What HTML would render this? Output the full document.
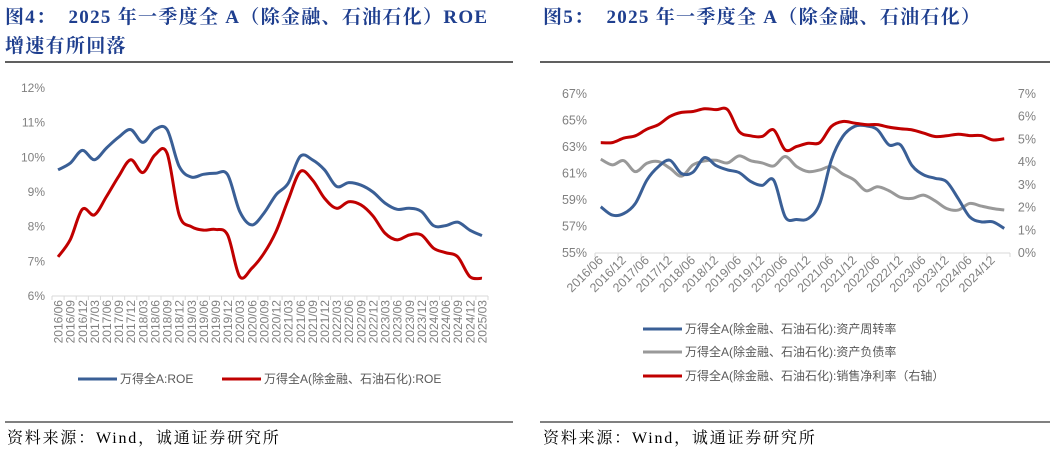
<!DOCTYPE html>
<html><head><meta charset="utf-8">
<style>
body{margin:0;width:1055px;height:453px;background:#fff;overflow:hidden;font-family:"Liberation Serif","Noto Serif CJK SC",serif;}
svg{position:absolute;left:0;top:0}
.t{font-family:"Liberation Serif","Noto Serif CJK SC",serif;font-weight:bold;fill:#1f3f8f;font-size:19px;letter-spacing:1.3px;white-space:pre}
.src{font-family:"Liberation Serif","Noto Serif CJK SC",serif;font-size:16px;fill:#000;letter-spacing:1.8px}
.ax{font-family:"Liberation Sans",sans-serif;font-size:12px;fill:#808080}
.ax2{font-family:"Liberation Sans",sans-serif;font-size:12.5px;fill:#808080}
.lg{font-family:"Liberation Sans","Noto Sans CJK SC",sans-serif;font-size:12px;fill:#595959}
</style></head><body>
<svg id="s" width="1055" height="453" xmlns="http://www.w3.org/2000/svg" xml:space="preserve">
<text class="t" x="5" y="23">图4：  2025 年一季度全 A（除金融、石油石化）ROE</text>
<text class="t" x="5" y="52">增速有所回落</text>
<text class="t" x="543" y="23">图5：  2025 年一季度全 A（除金融、石油石化）</text>
<line x1="5" y1="62" x2="513" y2="62" stroke="#000" stroke-width="1.2"/>
<line x1="540" y1="62" x2="1050" y2="62" stroke="#000" stroke-width="1.2"/>
<line x1="5" y1="422" x2="513" y2="422" stroke="#000" stroke-width="1"/>
<line x1="540" y1="422" x2="1050" y2="422" stroke="#000" stroke-width="1"/>
<text class="src" x="7" y="443">资料来源：Wind，诚通证券研究所</text>
<text class="src" x="543" y="443">资料来源：Wind，诚通证券研究所</text>
<g id="g1"></g>
<g id="g2"></g>
<g>
<line x1="78" y1="379" x2="117" y2="379" stroke="#3a5f96" stroke-width="3"/>
<text class="lg" x="120" y="383">万得全A:ROE</text>
<line x1="222" y1="379" x2="261" y2="379" stroke="#c00000" stroke-width="3"/>
<text class="lg" x="264" y="383">万得全A(除金融、石油石化):ROE</text>
</g>
<g>
<line x1="643" y1="329" x2="682" y2="329" stroke="#3a5f96" stroke-width="3"/>
<text class="lg" x="685" y="333">万得全A(除金融、石油石化):资产周转率</text>
<line x1="643" y1="352" x2="682" y2="352" stroke="#999" stroke-width="3"/>
<text class="lg" x="685" y="356">万得全A(除金融、石油石化):资产负债率</text>
<line x1="643" y1="376" x2="682" y2="376" stroke="#c00000" stroke-width="3"/>
<text class="lg" x="685" y="380">万得全A(除金融、石油石化):销售净利率（右轴）</text>
</g>
</svg>
<script>
const cats=[];for(let y=2016;y<=2025;y++)for(const q of["03","06","09","12"]){const c=y+"/"+q;if(c>="2016/06"&&c<="2025/03")cats.push(c);}
const roeAll=[9.64,9.83,10.2,9.93,10.27,10.58,10.8,10.43,10.8,10.8,9.74,9.43,9.51,9.54,9.5,8.44,8.05,8.39,8.92,9.25,10.03,9.93,9.64,9.16,9.27,9.2,9.0,8.68,8.5,8.53,8.44,8.03,8.03,8.13,7.9,7.74];
const roeEx=[7.13,7.62,8.5,8.34,8.87,9.45,9.93,9.56,10.07,10.12,8.34,8.0,7.9,7.92,7.76,6.56,6.8,7.23,7.86,8.77,9.59,9.35,8.82,8.53,8.72,8.63,8.31,7.81,7.62,7.76,7.76,7.38,7.25,7.13,6.56,6.51];
const leftTicks=[6,7,8,9,10,11,12];
const turnover=[58.49,57.86,57.98,58.74,60.5,61.52,62.0,61.0,61.1,62.2,61.6,61.27,61.07,60.4,60.1,60.5,57.73,57.53,57.6,58.74,62.0,63.8,64.55,64.6,64.3,63.16,63.16,61.6,60.9,60.64,60.38,59.12,57.73,57.35,57.35,56.85];
const leverage=[62.08,61.65,61.97,61.14,61.77,61.9,61.4,60.8,61.65,61.95,62.0,61.8,62.33,61.97,61.8,61.57,62.28,61.52,61.14,61.27,61.52,60.96,60.5,59.7,60.0,59.7,59.2,59.12,59.37,58.94,58.36,58.24,58.74,58.54,58.36,58.24];
const margin=[4.86,4.86,5.06,5.16,5.45,5.65,6.01,6.19,6.23,6.35,6.31,6.31,5.35,5.16,5.13,5.42,4.54,4.69,4.83,4.86,5.57,5.79,5.72,5.65,5.65,5.54,5.47,5.42,5.28,5.13,5.16,5.23,5.17,5.17,4.98,5.03];
const rLeftTicks=[55,57,59,61,63,65,67];
const rRightTicks=[0,1,2,3,4,5,6,7];
const NS="http://www.w3.org/2000/svg";
function mk(p,tag,a){const e=document.createElementNS(NS,tag);for(const k in a)e.setAttribute(k,a[k]);p.appendChild(e);return e;}
function smooth(pts){let d="M"+pts[0][0]+","+pts[0][1];for(let i=0;i<pts.length-1;i++){const p0=pts[i-1]||pts[i],p1=pts[i],p2=pts[i+1],p3=pts[i+2]||p2;const t=6;d+=" C"+(p1[0]+(p2[0]-p0[0])/t)+","+(p1[1]+(p2[1]-p0[1])/t)+" "+(p2[0]-(p3[0]-p1[0])/t)+","+(p2[1]-(p3[1]-p1[1])/t)+" "+p2[0]+","+p2[1];}return d;}
const g1=document.getElementById('g1');
const x1L=52,x1R=488,n=cats.length,cw1=(x1R-x1L)/n;
const X1=i=>x1L+cw1*(i+0.5);
const Y1=v=>296-(v-6)*(208/6);
for(const t of leftTicks){const e=mk(g1,'text',{class:'ax',x:45,y:Y1(t)+4,'text-anchor':'end'});e.textContent=t+'%';

}
mk(g1,'line',{x1:x1L,y1:296,x2:x1R,y2:296,stroke:'#d9d9d9'});
for(let i=0;i<=n;i++)mk(g1,'line',{x1:x1L+cw1*i,y1:296,x2:x1L+cw1*i,y2:300,stroke:'#d9d9d9'});
cats.forEach((c,i)=>{const e=mk(g1,'text',{class:'ax',transform:`translate(${X1(i)+4.5},300) rotate(-90)`,'text-anchor':'end'});e.textContent=c;

});
[[roeAll,'#3a5f96','roe-all-line'],[roeEx,'#c00000','roe-ex-line']].forEach(([arr,col,nm])=>{const p=mk(g1,'path',{d:smooth(arr.map((v,i)=>[X1(i),Y1(v)])),fill:'none',stroke:col,'stroke-width':3,'stroke-linejoin':'round'});

});
const g2=document.getElementById('g2');
const x2L=595,x2R=1010,cw2=(x2R-x2L)/n;
const X2=i=>x2L+cw2*(i+0.5);
const Y2=v=>253-(v-55)*(159/12);
const Y2r=v=>253-v*(159/7);
for(const t of rLeftTicks){const e=mk(g2,'text',{class:'ax2',x:587,y:Y2(t)+4,'text-anchor':'end'});e.textContent=t+'%';

}
for(const t of rRightTicks){const e=mk(g2,'text',{class:'ax2',x:1036,y:Y2r(t)+4,'text-anchor':'end'});e.textContent=t+'%';

}
mk(g2,'line',{x1:x2L,y1:253,x2:x2R,y2:253,stroke:'#d9d9d9'});
for(let i=0;i<=n;i+=2)mk(g2,'line',{x1:x2L+cw2*i,y1:253,x2:x2L+cw2*i,y2:257,stroke:'#d9d9d9'});
cats.forEach((c,i)=>{if(i%2)return;const e=mk(g2,'text',{class:'ax2',transform:`translate(${X2(i)+3},261) rotate(-45)`,'text-anchor':'end'});e.textContent=c;

});
[[leverage,'#999',Y2,'leverage-line'],[turnover,'#3a5f96',Y2,'turnover-line'],[margin,'#c00000',Y2r,'margin-line']].forEach(([arr,col,Y,nm])=>{const p=mk(g2,'path',{d:smooth(arr.map((v,i)=>[X2(i),Y(v)])),fill:'none',stroke:col,'stroke-width':3,'stroke-linejoin':'round'});

});
</script>
</body></html>
